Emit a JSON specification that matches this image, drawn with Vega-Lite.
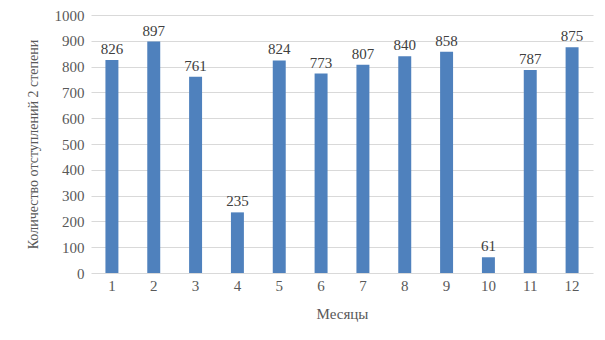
{
  "$schema": "https://vega.github.io/schema/vega-lite/v6.json",
  "width": 502,
  "height": 258,
  "autosize": {"type": "none"},
  "padding": {"left": 91, "top": 15, "right": 12, "bottom": 67},
  "background": "white",
  "config": {
    "view": {"stroke": null},
    "font": "Liberation Serif",
    "axis": {"labelFont": "Liberation Serif", "titleFont": "Liberation Serif", "labelColor": "#595959", "titleColor": "#595959", "titleFontWeight": "normal"}
  },
  "data": {"values": [
    {"month": "1", "count": 826},
    {"month": "2", "count": 897},
    {"month": "3", "count": 761},
    {"month": "4", "count": 235},
    {"month": "5", "count": 824},
    {"month": "6", "count": 773},
    {"month": "7", "count": 807},
    {"month": "8", "count": 840},
    {"month": "9", "count": 858},
    {"month": "10", "count": 61},
    {"month": "11", "count": 787},
    {"month": "12", "count": 875}
  ]},
  "encoding": {
    "x": {
      "field": "month", "type": "ordinal", "sort": null,
      "scale": {"paddingInner": 0.69, "paddingOuter": 0.345},
      "axis": {"title": "Месяцы", "labelAngle": 0, "labelFontSize": 15, "titleFontSize": 15, "ticks": false, "domain": false, "labelPadding": 5, "titlePadding": 13}
    },
    "y": {
      "field": "count", "type": "quantitative",
      "scale": {"domain": [0, 1000]},
      "axis": {"title": "Количество отступлений 2 степени", "format": "d", "values": [0,100,200,300,400,500,600,700,800,900,1000], "labelFontSize": 15, "titleFontSize": 14, "ticks": false, "domain": false, "gridColor": "#d9d9d9", "labelPadding": 7, "titlePadding": 14}
    }
  },
  "layer": [
    {"mark": {"type": "bar", "color": "#4f81bd"}},
    {"mark": {"type": "text", "dy": -11, "fontSize": 15, "color": "#404040", "font": "Liberation Serif"}, "encoding": {"text": {"field": "count", "type": "quantitative"}}}
  ]
}
